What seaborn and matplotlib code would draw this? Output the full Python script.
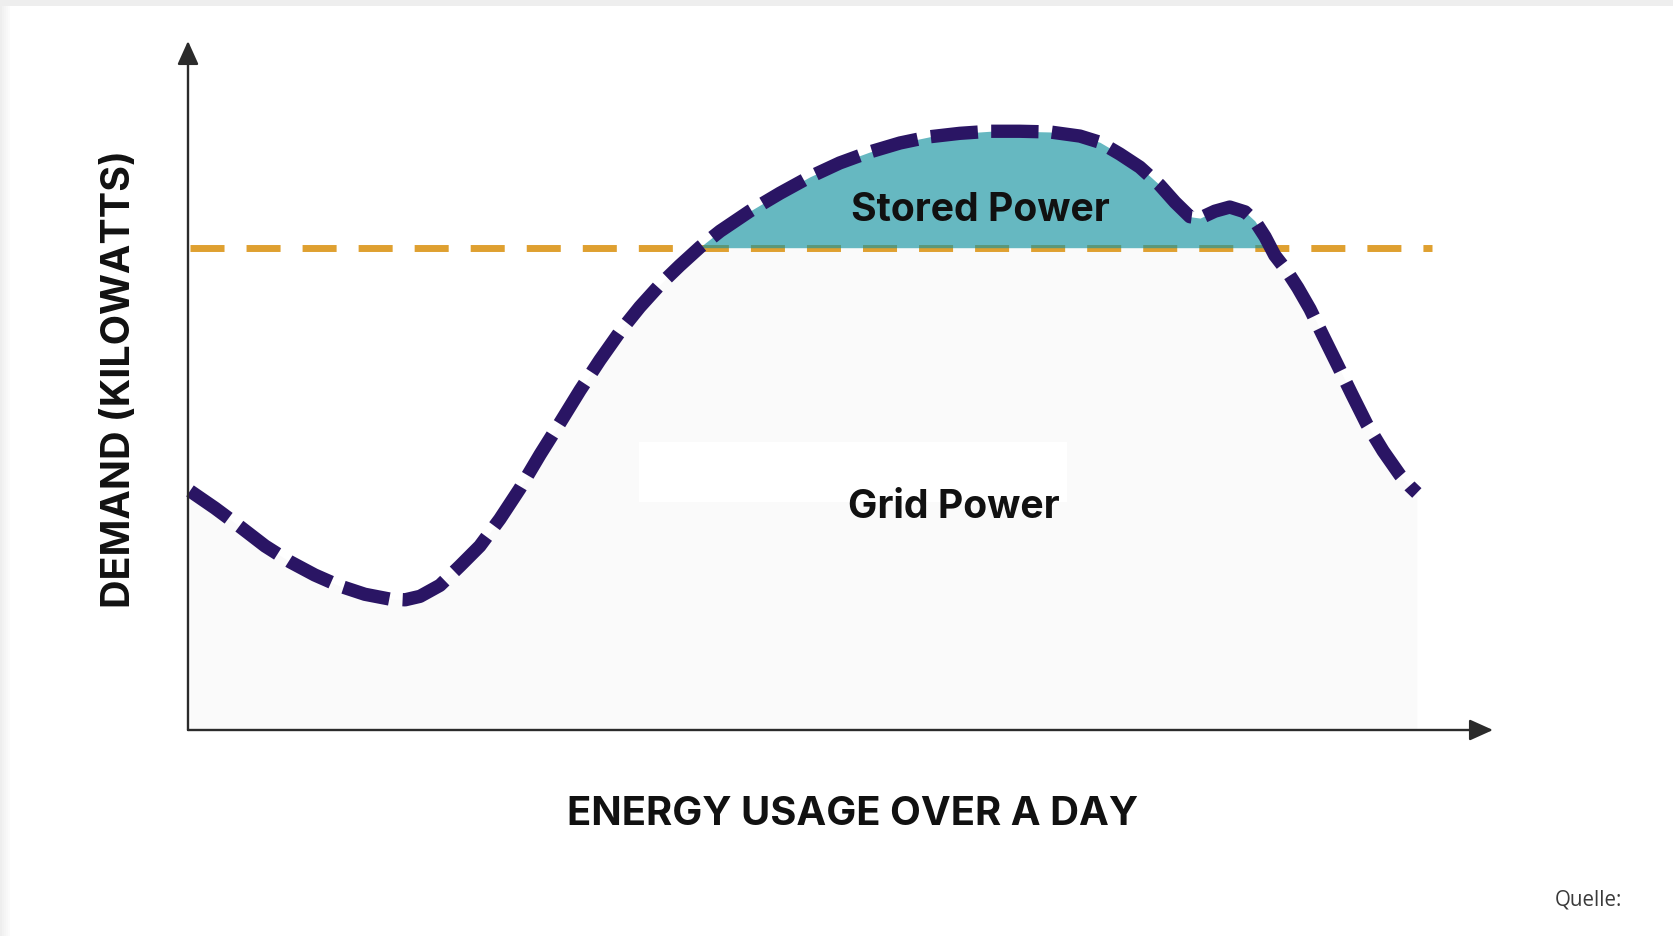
import numpy as np
import pandas as pd
import matplotlib
matplotlib.use("Agg")
import matplotlib.pyplot as plt
from matplotlib.patches import Rectangle
import seaborn as sns

# ---------------- data ----------------
hours = [0.00, 0.49, 0.98, 1.47, 1.96, 2.44, 2.93, 3.42, 3.91, 4.21,
         4.50, 4.89, 5.28, 5.67, 6.06, 6.45, 6.85, 7.24, 7.63, 8.02,
         8.41, 8.80, 9.19, 9.58, 9.98, 10.37, 10.95, 11.54, 12.13, 12.71,
         13.30, 13.89, 14.47, 15.06, 15.65, 16.23, 16.82, 17.41, 17.80, 18.19,
         18.58, 18.97, 19.27, 19.56, 19.76, 20.05, 20.34, 20.64, 20.83, 21.03,
         21.22, 21.46, 21.67, 21.91, 22.16, 22.44, 22.73, 23.02, 23.34, 23.67,
         23.86, 24.00]
demand_kw = [3.47, 3.22, 2.95, 2.67, 2.44, 2.25, 2.09, 1.97, 1.90, 1.89,
             1.94, 2.10, 2.38, 2.67, 3.06, 3.50, 4.00, 4.46, 4.93, 5.37,
             5.78, 6.14, 6.46, 6.74, 7.01, 7.24, 7.53, 7.79, 8.03, 8.23,
             8.39, 8.52, 8.61, 8.66, 8.69, 8.69, 8.68, 8.62, 8.53, 8.36,
             8.17, 7.91, 7.66, 7.45, 7.43, 7.53, 7.59, 7.52, 7.39, 7.16,
             6.89, 6.66, 6.42, 6.11, 5.73, 5.31, 4.87, 4.44, 4.05, 3.70,
             3.54, 3.44]
peak_threshold_kw = 7.0
threshold_hours = [0.0, 24.29]

x_label = "ENERGY USAGE OVER A DAY"
y_label = "DEMAND (KILOWATTS)"
stored_label = "Stored Power"
grid_label = "Grid Power"
source_label = "Quelle:"

df = pd.DataFrame({"hour": hours, "demand": demand_kw})
thr_df = pd.DataFrame({"hour": threshold_hours,
                       "demand": [peak_threshold_kw] * len(threshold_hours)})

# ---------------- style ----------------
sns.set_theme(style="white")
plt.rcParams["font.family"] = ["Inter", "DejaVu Sans"]

W, H = 1673, 937
fig = plt.figure(figsize=(W / 100, H / 100), dpi=100)
fig.patch.set_facecolor("white")

# faint page border (top band + left gradient)
fig.patches.append(Rectangle((0, 1 - 7 / H), 1, 7 / H, transform=fig.transFigure,
                             facecolor="#eeeeee", edgecolor="none", zorder=0))
for i, c in enumerate(["#eeeeee", "#f2f2f2", "#f5f5f5", "#f8f8f8", "#fbfbfb"]):
    fig.patches.append(Rectangle((i * 2 / W, 0), 2 / W, 1 - 7 / H, transform=fig.transFigure,
                                 facecolor=c, edgecolor="none", zorder=0))

left_px, right_px, bottom_px, top_px = 188, 1493, 731, 42
ax = fig.add_axes([left_px / W, 1 - bottom_px / H,
                   (right_px - left_px) / W, (bottom_px - top_px) / H])
ax.set_facecolor("none")
ax.set_xlim(-0.039, 25.49)
ax.set_ylim(0, 10.0)
for s in ax.spines.values():
    s.set_visible(False)
ax.set_xticks([])
ax.set_yticks([])

x = np.array(hours)
y = np.array(demand_kw)

# grid power region (light gray)
ax.fill_between(x, 0, np.minimum(y, peak_threshold_kw), color="#fafafa",
                linewidth=0, zorder=1)
# white label-box artifact
ax.add_patch(Rectangle((0.3456, 0.331), 0.328, 0.087, transform=ax.transAxes,
                       facecolor="white", edgecolor="none", zorder=1.5))

# threshold line
sns.lineplot(data=thr_df, x="hour", y="demand", ax=ax, color="#dfa030",
             linewidth=5.0, zorder=3, legend=False)
thr_line = ax.lines[-1]
thr_line.set_linestyle((0, (4.9, 3.17)))
thr_line.set_dash_capstyle("butt")
thr_line.set_clip_on(False)

# stored power region (teal, slightly translucent over the orange line)
ax.fill_between(x, peak_threshold_kw, y, where=y >= peak_threshold_kw,
                interpolate=True, color=(20 / 255, 147 / 255, 160 / 255),
                alpha=0.65, linewidth=0, zorder=3.5)

# demand curve
sns.lineplot(data=df, x="hour", y="demand", ax=ax, color="#2a1564",
             linewidth=9.6, zorder=4, legend=False, sort=False)
dem_line = ax.lines[-1]
dem_line.set_linestyle((0, (3.55, 1.0)))
dem_line.set_dash_capstyle("butt")
dem_line.set_dash_joinstyle("round")
dem_line.set_clip_on(False)

ax.set_xlabel("")
ax.set_ylabel("")

# axes with arrow heads
arrow_kw = dict(arrowstyle="-|>,head_length=0.4,head_width=0.18", color="#2b2b2b",
                lw=1.7, shrinkA=0, shrinkB=0, mutation_scale=36)
ax.annotate("", xy=(0, 1), xytext=(0, 0), xycoords="axes fraction",
            textcoords="axes fraction", arrowprops=arrow_kw, zorder=5)
ax.annotate("", xy=(1, 0), xytext=(0, 0), xycoords="axes fraction",
            textcoords="axes fraction", arrowprops=arrow_kw, zorder=5)

# region labels
ax.text(0.607, 0.756, stored_label, transform=ax.transAxes, ha="center",
        va="center", fontsize=28.2, fontweight="bold", color="#111111", zorder=6)
ax.text(0.587, 0.325, grid_label, transform=ax.transAxes, ha="center",
        va="center", fontsize=28.2, fontweight="bold", color="#111111", zorder=6)

# axis titles
fig.text(853 / W, 1 - 825 / H, x_label, ha="center", va="baseline",
         fontsize=28.8, fontweight="bold", color="#111111")
fig.text(119.5 / W, 1 - 379 / H, y_label, ha="center", va="center", rotation=90,
         fontsize=28.4, fontweight="bold", color="#111111")

# source note
fig.text(1555 / W, 1 - 906 / H, source_label, ha="left", va="baseline",
         fontsize=14.8, color="#3a3a3a", family=["Open Sans", "DejaVu Sans"])

fig.savefig("out.png", dpi=100, facecolor=fig.get_facecolor())
